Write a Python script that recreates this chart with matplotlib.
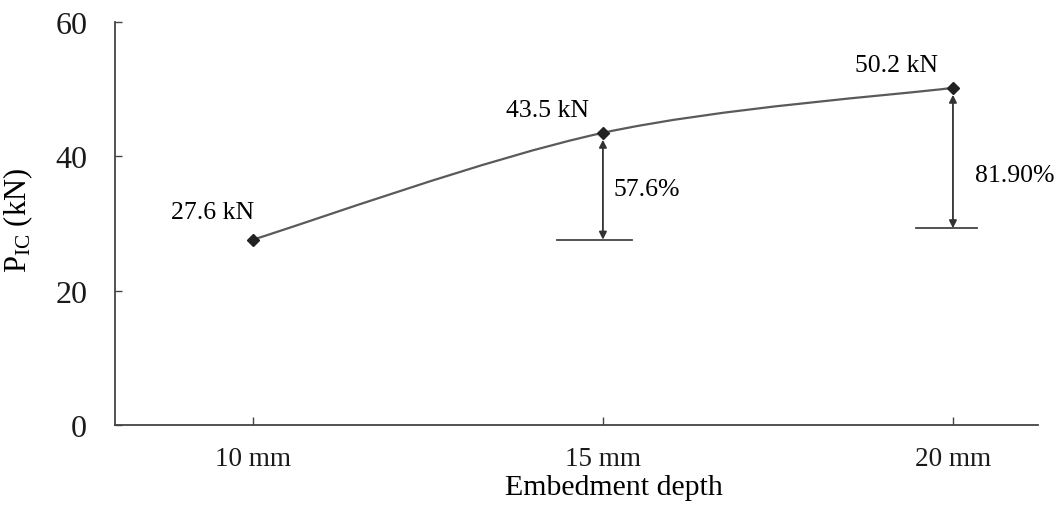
import matplotlib
matplotlib.use('Agg')
import matplotlib.pyplot as plt
from matplotlib.path import Path
from matplotlib.patches import PathPatch

plt.rcParams['font.family'] = ['Liberation Serif', 'DejaVu Serif']
plt.rcParams['mathtext.fontset'] = 'custom'
plt.rcParams['mathtext.rm'] = 'Liberation Serif'

# Datos
depths = ['10 mm', '15 mm', '20 mm']
loads = [27.6, 43.5, 50.2]
load_labels = ['27.6 kN', '43.5 kN', '50.2 kN']
gain_labels = ['57.6%', '81.90%']
gain_refs = [27.6, 29.3]
yticks = [0, 20, 40, 60]

xs = list(range(len(depths)))

fig = plt.figure(figsize=(10.58, 5.06), dpi=100)
ax = fig.add_axes([115 / 1058, (506 - 426) / 506, 923 / 1058, 403 / 506])

# Curva suavizada (Bezier tipo Catmull-Rom entre os pontos)
pts = list(zip(xs, loads))
verts = [pts[0]]
codes = [Path.MOVETO]
n = len(pts)
for i in range(n - 1):
    p0 = pts[max(i - 1, 0)]
    p1 = pts[i]
    p2 = pts[i + 1]
    p3 = pts[min(i + 2, n - 1)]
    c1 = (p1[0] + (p2[0] - p0[0]) / 6, p1[1] + (p2[1] - p0[1]) / 6)
    c2 = (p2[0] - (p3[0] - p1[0]) / 6, p2[1] - (p3[1] - p1[1]) / 6)
    verts += [c1, c2, p2]
    codes += [Path.CURVE4] * 3
ax.add_patch(PathPatch(Path(verts, codes), fill=False, edgecolor='#5a5a5a', lw=1.6))
ax.plot(xs, loads, linestyle='none', marker='D', markersize=6,
        color='#222222', zorder=3)

# Rotulos de carga
label_off = [(-0.115, 4.1), (-0.158, 3.4), (-0.16, 3.4)]
for x, y, txt, (dx, dy) in zip(xs, loads, load_labels, label_off):
    ax.text(x + dx, y + dy, txt, ha='center', va='center', fontsize=18.5)

# Setas de ganho em relacao ao 10 mm
bar_span = [(-0.131, 0.083), (-0.106, 0.069)]
text_off = [(0.03, 35.1), (0.063, 37.2)]
for k, (ref, txt) in enumerate(zip(gain_refs, gain_labels)):
    x = xs[k + 1]
    top = loads[k + 1]
    ax.plot([x + bar_span[k][0], x + bar_span[k][1]], [ref, ref],
            color='#444444', lw=1.3)
    ax.annotate('', xy=(x, top), xytext=(x, ref),
                arrowprops=dict(arrowstyle='<|-|>', color='#333333', lw=1.3,
                                mutation_scale=11, shrinkA=0, shrinkB=5))
    ax.text(x + text_off[k][0], text_off[k][1], txt, ha='left',
            va='center', fontsize=18.5)

ax.set_xlim(-0.394, 2.243)
ax.set_ylim(0, 60)
ax.set_xticks(xs)
ax.set_xticklabels(depths)
ax.set_yticks(yticks)
ax.spines['top'].set_visible(False)
ax.spines['right'].set_visible(False)
for s in ['left', 'bottom']:
    ax.spines[s].set_color('#444444')
    ax.spines[s].set_linewidth(1.3)
ax.tick_params(axis='y', direction='in', length=5, width=1, pad=20,
               labelsize=23, colors='#444444', labelcolor='#1a1a1a')
ax.tick_params(axis='x', direction='in', length=6, width=1, pad=15,
               labelsize=19.5, colors='#444444', labelcolor='#1a1a1a')

ax.set_xlabel('Embedment depth', fontsize=21.5)
ax.xaxis.set_label_coords(0.54, -0.122)
ax.set_ylabel(r'$\mathrm{P_{IC}}$ (kN)', fontsize=22)
ax.yaxis.set_label_coords(-0.087, 0.511)

fig.savefig('out.png', dpi=100)
